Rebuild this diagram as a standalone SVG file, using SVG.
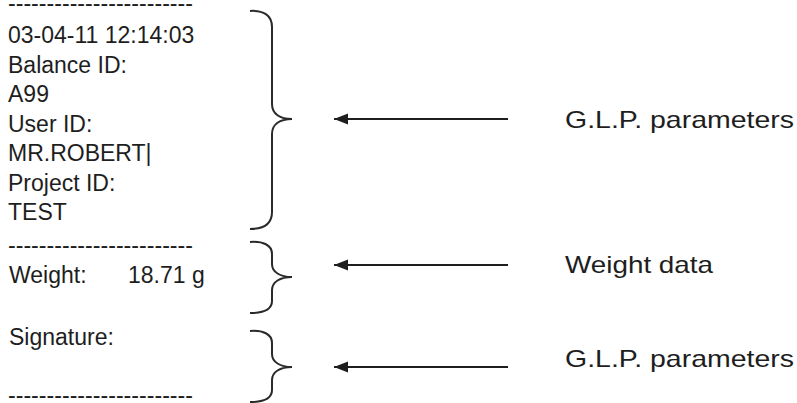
<svg xmlns="http://www.w3.org/2000/svg" width="797" height="403" viewBox="0 0 797 403">
<defs>
<style>
.t{font-family:"Liberation Sans",Arial,sans-serif;font-size:23px;fill:#1e1e1e}
.r{font-family:"Liberation Sans",Arial,sans-serif;font-size:24px;fill:#1e1e1e}
.brace{fill:none;stroke:#2a2a2a;stroke-width:2}
.arr{stroke:#1e1e1e;stroke-width:2;fill:none}
</style>
<marker id="ah" markerWidth="16" markerHeight="12" refX="14" refY="6" orient="auto" markerUnits="userSpaceOnUse">
<path d="M14,6 L0,0.5 L0,11.5 Z" fill="#1e1e1e"/>
</marker>
</defs>
<rect width="797" height="403" fill="#ffffff"/>
<g id="record">
<text class="t" x="8" y="11" textLength="185" lengthAdjust="spacingAndGlyphs">------------------------</text>
<text class="t" x="8" y="43">03-04-11 12:14:03</text>
<text class="t" x="8" y="72.5">Balance ID:</text>
<text class="t" x="8" y="102">A99</text>
<text class="t" x="8" y="131.5">User ID:</text>
<text class="t" x="8" y="161">MR.ROBERT|</text>
<text class="t" x="8" y="190.5">Project ID:</text>
<text class="t" x="8" y="220">TEST</text>
<text class="t" x="8" y="253" textLength="185" lengthAdjust="spacingAndGlyphs">------------------------</text>
<text class="t" x="9" y="283">Weight:</text>
<text class="t" x="128" y="283">18.71 g</text>
<text class="t" x="9" y="345">Signature:</text>
<text class="t" x="8" y="403" textLength="185" lengthAdjust="spacingAndGlyphs">------------------------</text>
</g>
<g id="brace-glp1">
<path class="brace" d="M250,11 C263,10 272,15 272,27 L272,104 C272,114 280,119 292,119 C280,119 272,124 272,134 L272,212 C272,224 263,229 250,229"/>
</g>
<g id="brace-weight">
<path class="brace" d="M250,242 C263,241 272,245 272,254 L272,264 C272,272 280,277 292,277 C280,277 272,282 272,290 L272,301 C272,310 263,313 250,313"/>
</g>
<g id="brace-glp2">
<path class="brace" d="M250,331 C263,330 272,334 272,343 L272,354 C272,362 280,367 292,367 C280,367 272,372 272,380 L272,390 C272,399 263,402 250,402"/>
</g>
<g id="connectors">
<line class="arr" x1="508" y1="119" x2="334" y2="119" marker-end="url(#ah)"/>
<line class="arr" x1="508" y1="265" x2="334" y2="265" marker-end="url(#ah)"/>
<line class="arr" x1="508" y1="367" x2="334" y2="367" marker-end="url(#ah)"/>
</g>
<g id="label-glp1"><text class="r" x="565" y="128" textLength="229" lengthAdjust="spacingAndGlyphs">G.L.P. parameters</text></g>
<g id="label-weight"><text class="r" x="565" y="273" textLength="148" lengthAdjust="spacingAndGlyphs">Weight data</text></g>
<g id="label-glp2"><text class="r" x="565" y="367" textLength="229" lengthAdjust="spacingAndGlyphs">G.L.P. parameters</text></g>
</svg>
